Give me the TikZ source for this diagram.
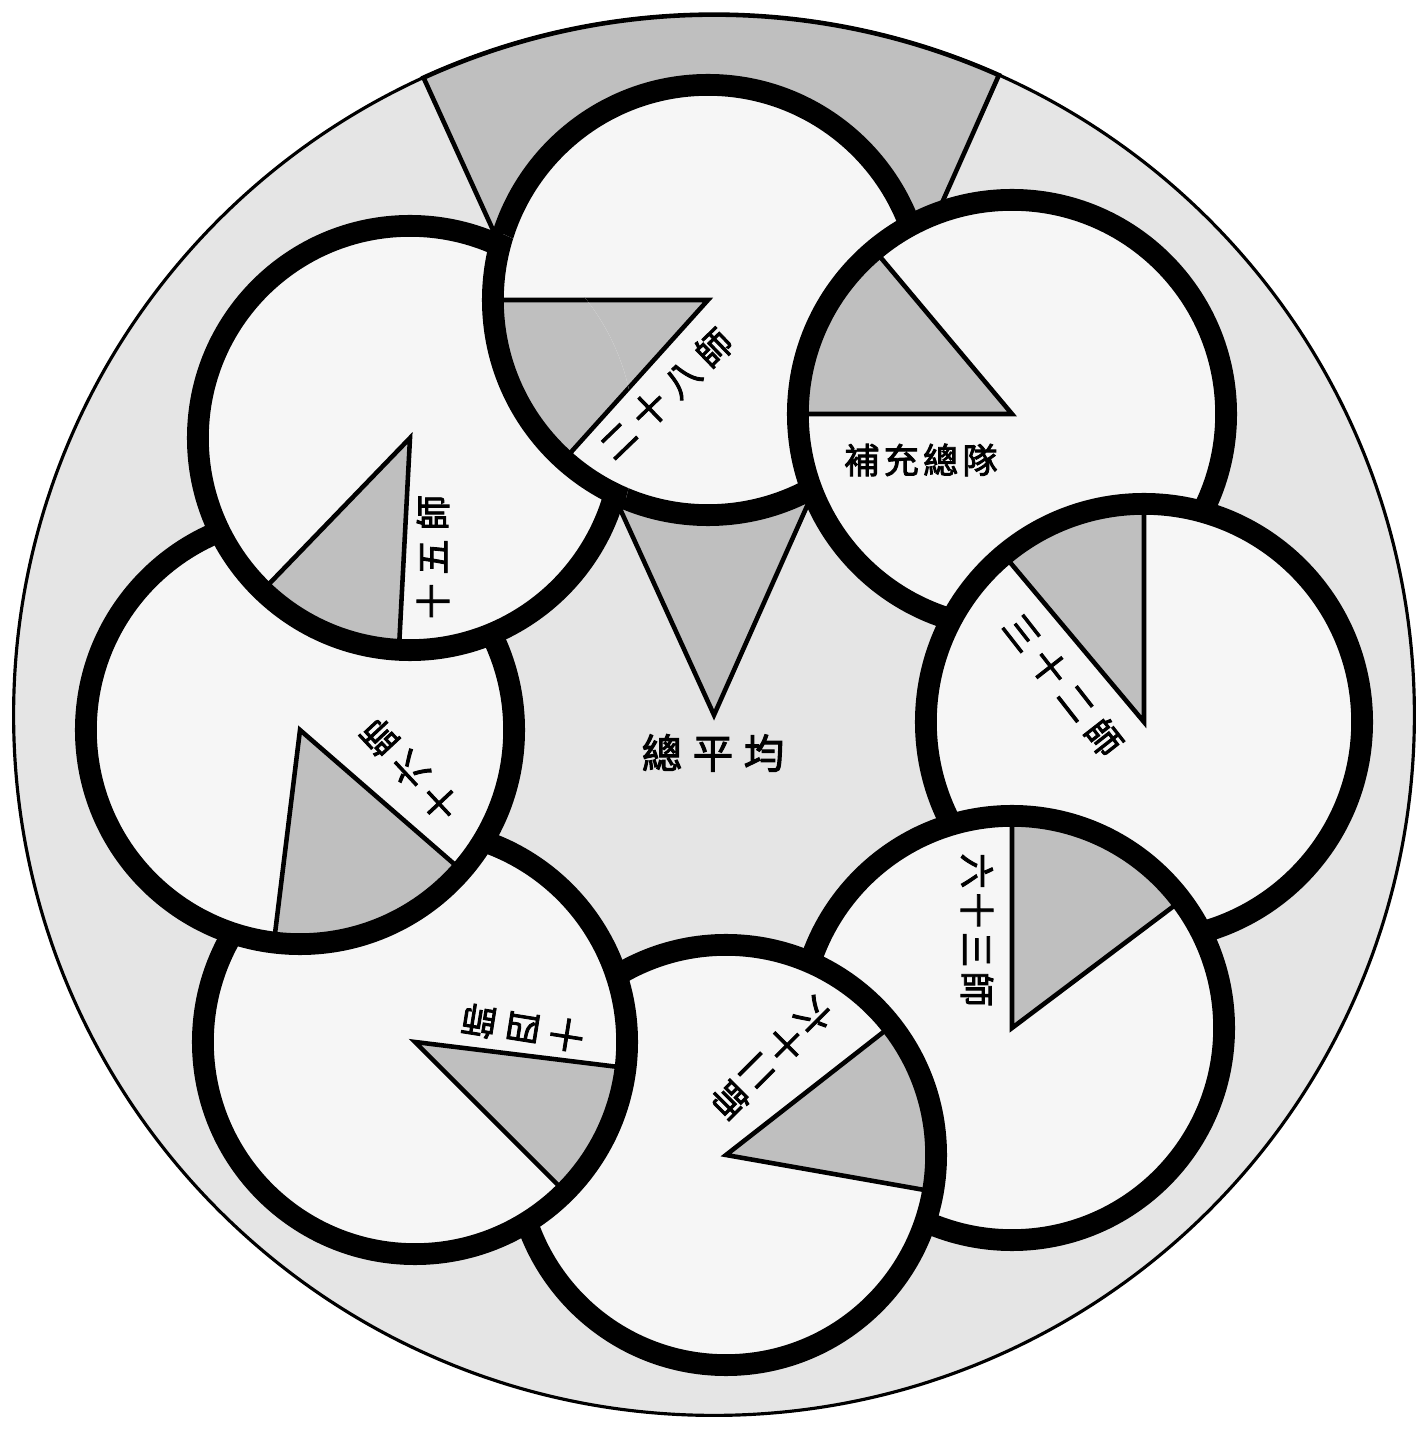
\documentclass[tikz,border=0pt]{standalone}
\usepackage{fontspec}
\newfontfamily\cjk[FakeBold=2.5]{Noto Sans CJK TC}
\newcommand\chsp{\kern 2.6pt}
\tikzset{
  wedge/.style={fill=gray!50, draw=black, line width=1.3pt, line join=miter},
  lab/.style={font=\cjk\fontsize{10}{10}\selectfont, inner sep=0pt},
  biglab/.style={font=\cjk\fontsize{11.5}{12}\selectfont, inner sep=0pt},
}
% #1 centre, #2 radius (with unit), #3 start angle, #4 end angle
\newcommand\mydisc[4]{%
  \fill[gray!7] (#1) circle[radius=#2];
  \filldraw[wedge] (#1) -- ++(#3:#2) arc[start angle=#3, end angle=#4, radius=#2] -- cycle;
  \draw[line width=6.2pt] (#1) circle[radius=#2];
}
\begin{document}
\begin{tikzpicture}[x=0.01cm,y=0.01cm]
\useasboundingbox (0,0) rectangle (1424,1429);
\fill[white] (0,0) rectangle (1424,1429);
% centres
\coordinate (O) at (714,714);
\coordinate (c1) at (708,1129);
\coordinate (c2) at (1012,1015);
\coordinate (c3) at (1144,707);
\coordinate (c4) at (1012,401);
\coordinate (c5) at (726,274);
\coordinate (c6) at (415,387);
\coordinate (c7) at (300,699);
\coordinate (c8) at (410,991);
% outer disc and overall-average sector
\filldraw[fill=gray!20, draw=black, line width=0.9pt] (O) circle[radius=7cm];
\filldraw[wedge] (O) -- ++(66:7cm) arc[start angle=66, end angle=114.5, radius=7cm] -- cycle;
% the eight discs, each over the previous one (clockwise)
\mydisc{c1}{2.15cm}{180}{228}
\mydisc{c2}{2.14cm}{130}{180}
\mydisc{c3}{2.18cm}{90}{130}
\mydisc{c4}{2.12cm}{37}{90}
\mydisc{c5}{2.10cm}{-10}{38}
\mydisc{c6}{2.12cm}{-45}{-7}
\mydisc{c7}{2.14cm}{-97}{-41}
\mydisc{c8}{2.12cm}{226}{267}
% disc 1 lies over disc 8
\begin{scope}
  \clip (c8) circle[radius=2.24cm];
  \mydisc{c1}{2.15cm}{180}{228}
\end{scope}
% labels
\node[lab, rotate=44] (l1) at (666,1035) {二\chsp 十\chsp 八\chsp 師};
\node[lab] (l2) at (921,969) {補\kern1.2pt 充\kern1.2pt 總\kern1.2pt 隊};
\node[lab, rotate=90] (l3) at (433,872) {十\chsp 五\chsp 師};
\node[lab, rotate=133] (l4) at (410,659) {十\chsp 六\chsp 師};
\node[lab, rotate=171] (l5) at (523,401) {十\chsp 四\chsp 師};
\node[lab, rotate=225] (l6) at (772,371) {六\kern1.2pt 十\kern1.2pt 二\kern1.2pt 師};
\node[lab, rotate=-90] (l7) at (977,499) {六\kern1.2pt 十\kern1.2pt 三\kern1.2pt 師};
\node[lab, rotate=-52] (l8) at (1063,744) {三\chsp 十\chsp 二\chsp 師};
\node[biglab] (lc) at (713,676) {總\kern3pt 平\kern3pt 均};
\end{tikzpicture}
\end{document}
